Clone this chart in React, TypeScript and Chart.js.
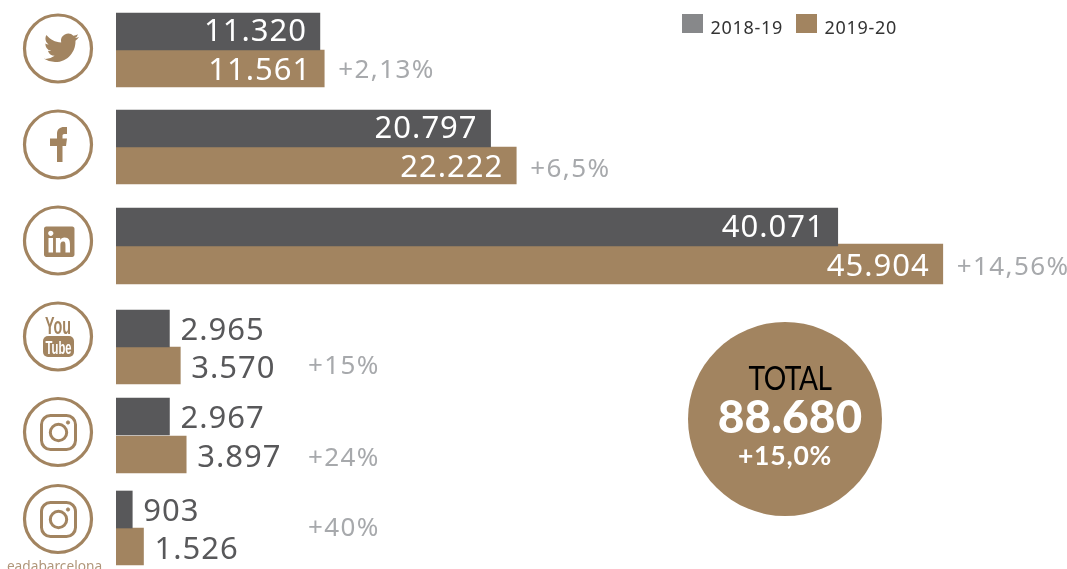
import React, { useEffect, useRef } from "react";
import { Chart, registerables } from "chart.js";

Chart.register(...registerables);

// ---- data ----
const networks = ["Twitter", "Facebook", "LinkedIn", "YouTube", "Instagram", "Instagram eadabarcelona"];
const seriesNames = ["2018-19", "2019-20"];
const values1819 = [11320, 20797, 40071, 2965, 2967, 903];
const values1920 = [11561, 22222, 45904, 3570, 3897, 1526];
const growthLabels = ["+2,13%", "+6,5%", "+14,56%", "+15%", "+24%", "+40%"];
const totalValue = "88.680";
const totalGrowth = "+15,0%";

// the rows of the original are not evenly spaced: position of each bar on the (linear, hidden) y axis
const rowPos1819 = [31.5, 128.5, 227, 328.5, 416.5, 509.5];
const rowPos1920 = [68.5, 165.5, 264, 365.5, 454.5, 546.5];
const growthRowPos = [78, 177, 275, 374, 466, 536];
const BIG_ROW = 2;

const DARK = "#58585A";
const BROWN = "#A28460";
const LEGEND_GREY = "#87888A";
const GROWTH_GREY = "#A7A9AC";
const FONT = '"Noto Sans"';

const fmt = (v: number) => String(v).replace(/\B(?=(\d{3})+$)/g, ".");
const points = (vals: number[], pos: number[], keep: (i: number) => boolean) =>
  vals.map((v, i) => ({ x: v, y: pos[i], row: i })).filter((p) => keep(p.row));

const labelsPlugin = {
  id: "barLabels",
  afterDatasetsDraw(chart: any) {
    const ctx = chart.ctx as CanvasRenderingContext2D;
    ctx.save();
    ctx.textBaseline = "alphabetic";
    chart.data.datasets.forEach((ds: any, di: number) => {
      const meta = chart.getDatasetMeta(di);
      meta.data.forEach((el: any, i: number) => {
        const p = ds.data[i];
        const inside = p.x >= 10000;
        const isDark = ds.series === 0;
        const dy = inside ? (isDark ? 9.5 : 11.5) : isDark ? 11.5 : 12.5;
        ctx.font = `31px ${FONT}`;
        (ctx as any).letterSpacing = "1px";
        ctx.fillStyle = inside ? "#FFFFFF" : DARK;
        ctx.textAlign = inside ? "right" : "left";
        ctx.fillText(fmt(p.x), inside ? el.x - 13 : el.x + 11, el.y + dy);
        if (!isDark) {
          ctx.font = `26px ${FONT}`;
          (ctx as any).letterSpacing = "1.4px";
          ctx.fillStyle = GROWTH_GREY;
          ctx.textAlign = "left";
          ctx.fillText(growthLabels[p.row], Math.max(el.x + 14, 308), growthRowPos[p.row]);
        }
      });
    });
    ctx.restore();
  },
};

const abs = (s: React.CSSProperties): React.CSSProperties => ({ position: "absolute", ...s });

const Ring = ({ cy }: { cy: number }) => (
  <circle cx={58} cy={cy} r={33.5} fill="none" stroke={BROWN} strokeWidth={3.2} />
);

const Insta = ({ cy }: { cy: number }) => (
  <g fill="none" stroke={BROWN} strokeWidth={3}>
    <rect x={41.5} y={cy - 17} width={34} height={34} rx={9} />
    <circle cx={58.5} cy={cy} r={8.2} />
    <circle cx={68} cy={cy - 10} r={1.6} fill={BROWN} strokeWidth={1} />
  </g>
);

const Icons = () => (
  <svg width={1067} height={569} style={abs({ left: 0, top: 0 })}>
    <Ring cy={48.5} />
    <Ring cy={144.5} />
    <Ring cy={240.5} />
    <Ring cy={336.5} />
    <Ring cy={432} />
    <Ring cy={519} />
    <path
      transform="translate(44 30.3) scale(1.46)"
      fill={BROWN}
      d="M23.953 4.57a10 10 0 01-2.825.775 4.958 4.958 0 002.163-2.723c-.951.555-2.005.959-3.127 1.184a4.92 4.92 0 00-8.384 4.482C7.69 8.095 4.067 6.13 1.64 3.162a4.822 4.822 0 00-.666 2.475c0 1.71.87 3.213 2.188 4.096a4.904 4.904 0 01-2.228-.616v.06a4.923 4.923 0 003.946 4.827 4.996 4.996 0 01-2.212.085 4.936 4.936 0 004.604 3.417 9.867 9.867 0 01-6.102 2.105c-.39 0-.779-.023-1.17-.067a13.995 13.995 0 007.557 2.209c9.053 0 13.998-7.496 13.998-13.985 0-.21 0-.42-.015-.63A9.935 9.935 0 0024 4.59z"
    />
    <path
      fill={BROWN}
      d="M57 162V146H50V138.5H57V134C57 129 60 127 64 127H67V134H64.5C62.5 134 62.5 135 62.5 136V138.5H67L66 146H62.5V162Z"
    />
    <path
      transform="translate(44 226.5) scale(1.27)"
      fill={BROWN}
      d="M20.447 20.452h-3.554v-5.569c0-1.328-.027-3.037-1.852-3.037-1.853 0-2.136 1.445-2.136 2.939v5.667H9.351V9h3.414v1.561h.046c.477-.9 1.637-1.85 3.37-1.85 3.601 0 4.267 2.37 4.267 5.455v6.286zM5.337 7.433c-1.144 0-2.063-.926-2.063-2.065 0-1.138.92-2.063 2.063-2.063 1.14 0 2.064.925 2.064 2.063 0 1.139-.925 2.065-2.064 2.065zm1.782 13.019H3.555V9h3.564v11.452zM22.225 0H1.771C.792 0 0 .774 0 1.729v20.542C0 23.227.792 24 1.771 24h20.451C23.2 24 24 23.227 24 22.271V1.729C24 .774 23.2 0 22.222 0h.003z"
    />
    <text
      x={45}
      y={334}
      textLength={26}
      lengthAdjust="spacingAndGlyphs"
      fill={BROWN}
      style={{ font: 'bold 23px "Liberation Sans Narrow", "Liberation Sans"' }}
    >
      You
    </text>
    <rect x={43} y={336} width={31} height={21} rx={5} fill={BROWN} />
    <text
      x={45.5}
      y={354}
      textLength={26}
      lengthAdjust="spacingAndGlyphs"
      fill="#FFFFFF"
      style={{ font: 'bold 19px "Liberation Sans Narrow", "Liberation Sans"' }}
    >
      Tube
    </text>
    <Insta cy={432.5} />
    <Insta cy={519.5} />
  </svg>
);

export default function App() {
  const ref = useRef<HTMLCanvasElement>(null);
  useEffect(() => {
    document.body.style.margin = "0";
    const normal = (i: number) => i !== BIG_ROW;
    const big = (i: number) => i === BIG_ROW;
    const base = { grouped: false, borderWidth: 0, borderSkipped: false };
    const chart = new Chart(ref.current!, {
      type: "bar",
      data: {
        labels: networks,
        datasets: [
          { ...base, label: seriesNames[0], series: 0, backgroundColor: DARK, barThickness: 37, data: points(values1819, rowPos1819, normal) },
          { ...base, label: seriesNames[1], series: 1, backgroundColor: BROWN, barThickness: 37, data: points(values1920, rowPos1920, normal) },
          { ...base, label: seriesNames[0], series: 0, backgroundColor: DARK, barThickness: 38, data: points(values1819, rowPos1819, big) },
          { ...base, label: seriesNames[1], series: 1, backgroundColor: BROWN, barThickness: 40, data: points(values1920, rowPos1920, big) },
        ] as any,
      },
      options: {
        indexAxis: "y",
        animation: false,
        responsive: false,
        layout: { padding: { left: 116, right: 0, top: 0, bottom: 0 } },
        plugins: { legend: { display: false }, tooltip: { enabled: false } },
        scales: {
          x: { type: "linear", display: false, min: 0, max: 52800 },
          y: { type: "linear", display: false, reverse: true, min: 0, max: 569, offset: false },
        },
      },
      plugins: [labelsPlugin],
    });
    return () => chart.destroy();
  }, []);

  const legendText: React.CSSProperties = {
    font: `18px ${FONT}`,
    letterSpacing: "0.7px",
    color: "#333333",
    lineHeight: "20px",
    whiteSpace: "nowrap",
  };

  return (
    <div style={abs({ left: 0, top: 0, width: 1067, height: 569, overflow: "hidden", background: "#FFFFFF" })}>
      <canvas ref={ref} width={1067} height={569} style={{ display: "block" }} />
      <Icons />
      <div
        style={abs({
          left: 0,
          width: 109,
          top: 556,
          textAlign: "center",
          color: "#B0967A",
          font: `13.7px ${FONT}`,
          lineHeight: "20px",
        })}
      >
        eadabarcelona
      </div>

      <div style={abs({ left: 682, top: 14, width: 21, height: 19, background: LEGEND_GREY })} />
      <div style={abs({ left: 710.5, top: 17, ...legendText })}>{seriesNames[0]}</div>
      <div style={abs({ left: 796, top: 14, width: 21, height: 19, background: BROWN })} />
      <div style={abs({ left: 824.5, top: 17, ...legendText })}>{seriesNames[1]}</div>

      <div style={abs({ left: 688, top: 322, width: 194, height: 194, borderRadius: "50%", background: BROWN })} />
      <div style={abs({ left: 693, width: 194, top: 358, textAlign: "center", color: "#000000", font: "32px Lato", letterSpacing: "-0.6px", lineHeight: "40px", transform: "scaleX(0.88)" })}>
        TOTAL
      </div>
      <div style={abs({ left: 693, width: 194, top: 388, textAlign: "center", color: "#FFFFFF", font: "900 46px Lato", lineHeight: "56px" })}>
        {totalValue}
      </div>
      <div style={abs({ left: 688, width: 194, top: 440, textAlign: "center", color: "#FFFFFF", font: "bold 26.5px Lato", letterSpacing: "0.8px", lineHeight: "30px" })}>
        {totalGrowth}
      </div>
    </div>
  );
}
